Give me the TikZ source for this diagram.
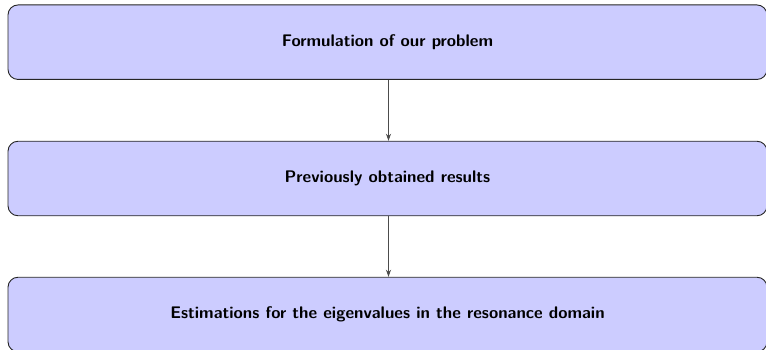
\documentclass[tikz,border=0pt]{standalone}
\usetikzlibrary{arrows.meta}
\begin{document}
\begin{tikzpicture}[x=1pt,y=-1pt,
  stagebox/.style={draw=black!85, line width=0.9pt, fill=blue!20, rounded corners=10pt,
    minimum width=759pt, minimum height=74.5pt, inner sep=0pt,
    font=\fontsize{16.8}{19}\selectfont\sffamily\bfseries},
  flowarrow/.style={draw=black!70, line width=0.8pt, -{Stealth[length=7pt,width=5pt]}}]
\useasboundingbox (0,0) rectangle (766,350);
\node[stagebox] (a) at (387.5,42.2) {Formulation of our problem};
\node[stagebox] (b) at (387.5,178.5) {Previously obtained results};
\node[stagebox] (c) at (387.5,314.5) {Estimations for the eigenvalues in the resonance domain};
\draw[flowarrow] (a.south -| 388.5,0) -- (b.north -| 388.5,0);
\draw[flowarrow] (b.south -| 388.5,0) -- (c.north -| 388.5,0);
\end{tikzpicture}
\end{document}
